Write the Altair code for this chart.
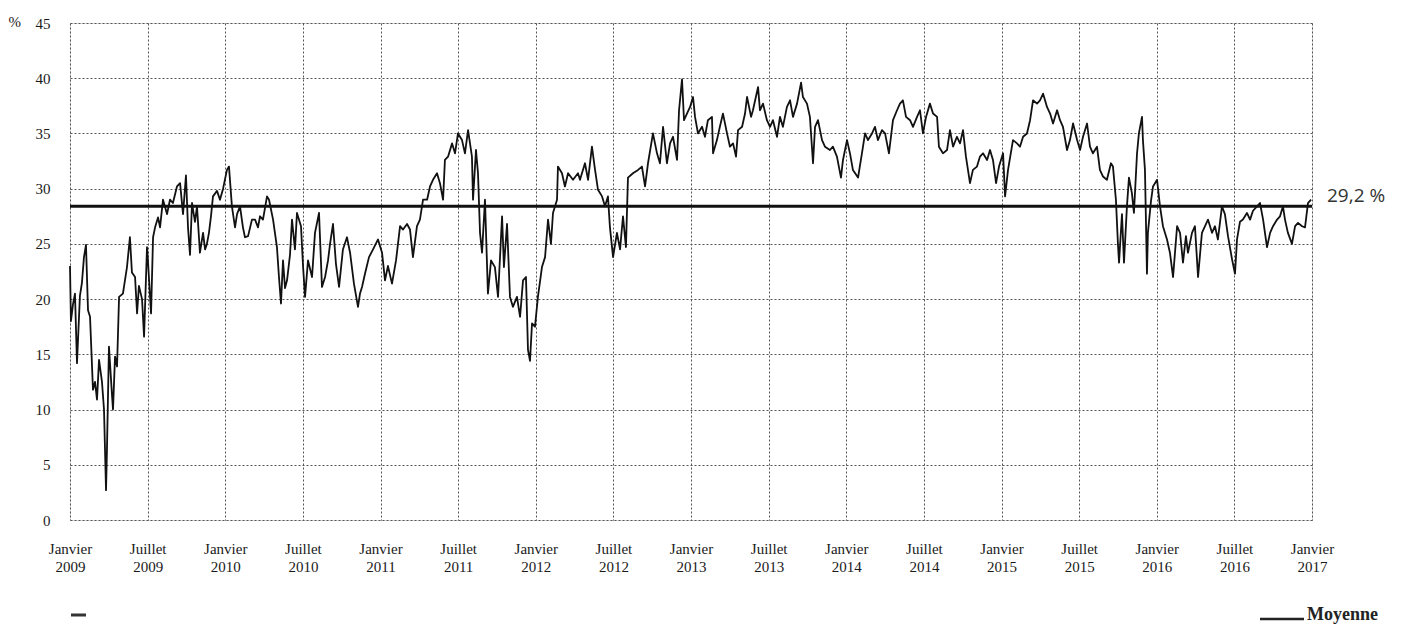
import altair as alt
import pandas as pd

# Années écoulées depuis janvier 2009 et valeurs en %
annees_depuis_2009 = [
    0.000, 0.006, 0.019, 0.032, 0.045, 0.064, 0.077, 0.090, 0.103, 0.116,
    0.129, 0.148, 0.161, 0.174, 0.187, 0.206, 0.219, 0.232, 0.238, 0.251,
    0.271, 0.277, 0.290, 0.303, 0.316, 0.341, 0.367, 0.386, 0.399, 0.419,
    0.432, 0.444, 0.464, 0.477, 0.496, 0.502, 0.522, 0.535, 0.548, 0.567,
    0.580, 0.599, 0.625, 0.644, 0.663, 0.689, 0.709, 0.728, 0.747, 0.760,
    0.773, 0.786, 0.805, 0.818, 0.837, 0.857, 0.870, 0.882, 0.895, 0.908,
    0.921, 0.947, 0.966, 0.986, 1.011, 1.024, 1.043, 1.063, 1.076, 1.095,
    1.114, 1.127, 1.147, 1.172, 1.192, 1.211, 1.224, 1.243, 1.269, 1.282,
    1.308, 1.320, 1.333, 1.346, 1.359, 1.372, 1.385, 1.398, 1.417, 1.430,
    1.449, 1.462, 1.488, 1.501, 1.514, 1.533, 1.559, 1.578, 1.604, 1.623,
    1.643, 1.662, 1.675, 1.694, 1.713, 1.733, 1.758, 1.784, 1.804, 1.829,
    1.855, 1.868, 1.881, 1.900, 1.926, 1.952, 1.984, 2.010, 2.029, 2.048,
    2.074, 2.100, 2.126, 2.145, 2.171, 2.190, 2.209, 2.235, 2.254, 2.274,
    2.300, 2.319, 2.338, 2.364, 2.383, 2.403, 2.415, 2.435, 2.461, 2.480,
    2.499, 2.525, 2.544, 2.564, 2.589, 2.596, 2.615, 2.628, 2.641, 2.654,
    2.673, 2.692, 2.712, 2.737, 2.757, 2.783, 2.795, 2.815, 2.834, 2.853,
    2.879, 2.899, 2.918, 2.937, 2.950, 2.963, 2.976, 2.995, 3.014, 3.040,
    3.060, 3.079, 3.098, 3.111, 3.137, 3.143, 3.169, 3.188, 3.208, 3.240,
    3.272, 3.285, 3.317, 3.337, 3.362, 3.382, 3.401, 3.427, 3.446, 3.465,
    3.478, 3.498, 3.523, 3.543, 3.562, 3.581, 3.594, 3.626, 3.659, 3.684,
    3.704, 3.723, 3.755, 3.781, 3.800, 3.820, 3.845, 3.865, 3.884, 3.910,
    3.923, 3.942, 3.955, 3.974, 3.994, 4.013, 4.026, 4.045, 4.071, 4.090,
    4.109, 4.135, 4.142, 4.167, 4.186, 4.206, 4.232, 4.251, 4.271, 4.290,
    4.303, 4.329, 4.348, 4.361, 4.387, 4.399, 4.432, 4.444, 4.464, 4.489,
    4.509, 4.528, 4.554, 4.573, 4.592, 4.618, 4.638, 4.657, 4.683, 4.709,
    4.721, 4.747, 4.766, 4.786, 4.799, 4.818, 4.844, 4.863, 4.895, 4.914,
    4.940, 4.966, 4.979, 5.005, 5.024, 5.043, 5.076, 5.101, 5.121, 5.140,
    5.166, 5.185, 5.204, 5.230, 5.250, 5.275, 5.301, 5.327, 5.346, 5.365,
    5.385, 5.411, 5.430, 5.456, 5.475, 5.494, 5.514, 5.539, 5.559, 5.585,
    5.597, 5.623, 5.649, 5.668, 5.688, 5.713, 5.733, 5.752, 5.771, 5.797,
    5.816, 5.842, 5.861, 5.881, 5.907, 5.926, 5.945, 5.965, 5.984, 6.010,
    6.023, 6.042, 6.074, 6.100, 6.119, 6.139, 6.164, 6.184, 6.203, 6.229,
    6.248, 6.268, 6.293, 6.313, 6.332, 6.358, 6.377, 6.396, 6.422, 6.441,
    6.461, 6.487, 6.506, 6.525, 6.551, 6.570, 6.589, 6.615, 6.634, 6.654,
    6.679, 6.705, 6.718, 6.737, 6.750, 6.757, 6.776, 6.789, 6.808, 6.821,
    6.840, 6.853, 6.873, 6.885, 6.905, 6.911, 6.924, 6.937, 6.943, 6.963,
    6.976, 7.002, 7.021, 7.040, 7.066, 7.085, 7.105, 7.131, 7.150, 7.169,
    7.188, 7.201, 7.227, 7.246, 7.266, 7.291, 7.311, 7.330, 7.356, 7.375,
    7.394, 7.420, 7.439, 7.459, 7.485, 7.504, 7.517, 7.536, 7.555, 7.581,
    7.601, 7.620, 7.646, 7.665, 7.685, 7.710, 7.730, 7.749, 7.775, 7.794,
    7.813, 7.826, 7.845, 7.871, 7.891, 7.910, 7.936, 7.955, 7.974, 7.994,
]

valeurs = [
    23.0, 18.0, 19.5, 20.5, 14.2, 20.3, 21.5, 23.8, 24.9, 19.0,
    18.4, 11.8, 12.5, 10.9, 14.5, 12.5, 10.0, 2.7, 6.3, 15.7,
    11.2, 10.0, 14.8, 13.9, 20.2, 20.5, 22.9, 25.6, 22.4, 22.0,
    18.7, 21.2, 20.0, 16.6, 24.7, 23.5, 18.7, 25.6, 26.5, 27.4,
    26.5, 29.0, 27.7, 29.0, 28.7, 30.2, 30.5, 27.7, 31.2, 26.5,
    24.0, 28.7, 27.0, 28.4, 24.2, 26.0, 24.5, 25.0, 26.0, 27.5,
    29.3, 29.8, 29.0, 30.0, 31.7, 32.0, 28.4, 26.5, 27.7, 28.4,
    26.5, 25.6, 25.7, 27.2, 27.2, 26.5, 27.5, 27.2, 29.3, 29.0,
    27.2, 26.0, 24.7, 22.0, 19.6, 23.5, 21.0, 21.7, 24.0, 27.2,
    24.5, 27.8, 26.6, 23.0, 20.2, 23.5, 22.0, 26.0, 27.8, 21.1,
    22.0, 23.5, 25.0, 26.8, 23.2, 21.1, 24.5, 25.6, 24.2, 21.4,
    19.3, 20.5, 21.1, 22.3, 23.8, 24.5, 25.4, 24.2, 21.7, 23.0,
    21.4, 23.5, 26.6, 26.3, 26.8, 26.3, 23.8, 26.6, 27.2, 29.0,
    29.0, 30.2, 30.8, 31.4, 30.5, 29.0, 32.6, 32.9, 34.1, 33.2,
    35.0, 34.4, 33.2, 35.3, 32.9, 29.0, 33.5, 31.4, 26.0, 24.2,
    29.0, 20.5, 23.5, 22.9, 20.2, 27.5, 22.9, 26.8, 20.2, 19.3,
    20.2, 18.4, 21.7, 22.0, 15.4, 14.4, 17.8, 17.5, 20.2, 22.9,
    23.8, 27.2, 25.0, 27.8, 29.0, 32.0, 31.4, 30.2, 31.4, 30.8,
    31.4, 30.8, 32.3, 30.8, 33.8, 31.7, 29.9, 29.3, 28.4, 29.3,
    26.5, 23.8, 26.0, 24.5, 27.5, 24.7, 31.0, 31.4, 31.7, 32.0,
    30.2, 32.3, 35.0, 33.2, 32.3, 35.6, 32.3, 34.1, 34.7, 32.6,
    37.1, 39.9, 36.2, 36.8, 37.4, 38.3, 36.5, 35.0, 35.6, 34.7,
    36.2, 36.5, 33.2, 34.4, 35.6, 36.8, 35.0, 33.8, 34.1, 32.9,
    35.3, 35.6, 36.8, 38.3, 36.5, 37.1, 39.2, 37.1, 37.7, 36.2,
    35.6, 36.2, 34.7, 36.5, 35.6, 37.4, 38.0, 36.5, 37.7, 39.6,
    38.3, 37.7, 36.5, 32.3, 35.6, 36.2, 34.4, 33.8, 33.5, 33.8,
    32.9, 31.0, 32.6, 34.4, 33.2, 31.7, 31.0, 33.2, 35.0, 34.4,
    35.0, 35.6, 34.4, 35.3, 35.0, 33.2, 36.2, 37.1, 37.7, 38.0,
    36.5, 36.2, 35.6, 36.5, 37.1, 35.0, 36.5, 37.7, 36.8, 36.5,
    33.8, 33.2, 33.5, 35.3, 33.8, 34.7, 34.1, 35.3, 32.9, 30.5,
    31.7, 32.0, 32.9, 33.2, 32.6, 33.5, 32.6, 30.5, 32.0, 33.2,
    29.3, 31.7, 34.4, 34.1, 33.8, 34.7, 35.0, 36.2, 38.0, 37.7,
    38.0, 38.6, 37.4, 36.8, 35.9, 37.1, 36.2, 35.6, 33.5, 34.4,
    35.9, 34.4, 33.5, 34.7, 35.9, 33.8, 33.2, 33.8, 31.7, 31.1,
    30.8, 32.3, 32.0, 29.0, 25.0, 23.3, 27.7, 23.3, 28.4, 31.0,
    29.6, 27.8, 33.2, 35.0, 36.5, 34.4, 31.7, 22.3, 26.0, 28.9,
    30.2, 30.8, 28.4, 26.6, 25.4, 24.2, 22.0, 26.6, 26.0, 23.3,
    25.7, 24.2, 26.0, 26.6, 22.0, 26.0, 26.6, 27.2, 26.0, 26.6,
    25.4, 28.4, 27.7, 25.7, 23.6, 22.3, 25.4, 27.0, 27.2, 27.8,
    27.2, 28.0, 28.4, 28.7, 27.2, 24.7, 26.0, 26.6, 27.2, 27.5,
    28.4, 27.2, 26.0, 25.0, 26.6, 26.9, 26.6, 26.5, 28.7, 29.0,
]

moyenne_trace = 28.4
moyenne_label = "29,2 %"
graduations_x = [i * 0.5 for i in range(17)]
graduations_y = list(range(0, 50, 5))

df = pd.DataFrame({"t": annees_depuis_2009, "v": valeurs})

W, H = 1242, 497
SERIF = "Liberation Serif"

x_enc = alt.X(
    "t:Q",
    scale=alt.Scale(domain=[0, 8], nice=False, zero=False),
    axis=alt.Axis(
        values=graduations_x,
        labelExpr="[datum.value % 1 == 0 ? 'Janvier' : 'Juillet', '' + (2009 + floor(datum.value))]",
        grid=True, gridColor="#555", gridDash=[2, 2], gridWidth=1,
        ticks=False, domain=False, title=None,
        labelFont=SERIF, labelFontSize=15, labelColor="#1a1a1a",
        labelPadding=21, labelLineHeight=18, labelBaseline="top",
        labelFlush=False, labelOverlap=False,
    ),
)
y_scale = alt.Scale(domain=[0, 45], nice=False, zero=False)
y_enc = alt.Y(
    "v:Q",
    scale=y_scale,
    axis=alt.Axis(
        values=graduations_y,
        grid=True, gridColor="#555", gridDash=[2, 2], gridWidth=1,
        ticks=False, domain=False,
        labelFont=SERIF, labelFontSize=15, labelColor="#1a1a1a",
        labelPadding=20, labelFlush=False, labelOverlap=False,
        title="%", titleAngle=0, titleFont=SERIF, titleFontSize=15,
        titleFontWeight="normal", titleColor="#1a1a1a",
        titleX=-62, titleY=-2, titleAlign="left", titleBaseline="middle",
    ),
)

ligne = alt.Chart(df).mark_line(color="#111", strokeWidth=1.8, strokeJoin="round").encode(
    x=x_enc, y=y_enc
)

moy = alt.Chart(pd.DataFrame({"m": [moyenne_trace]})).mark_rule(
    color="#111", strokeWidth=3
).encode(y=alt.Y("m:Q", scale=y_scale))

moy_txt = alt.Chart(pd.DataFrame({"m": [moyenne_trace], "lab": [moyenne_label]})).mark_text(
    align="left", baseline="middle", dx=15, dy=-10, font="Open Sans", fontSize=19, color="#333"
).encode(x=alt.value(W), y=alt.Y("m:Q", scale=y_scale), text="lab:N")

leg_rule = alt.Chart(pd.DataFrame({"k": [0]})).mark_rule(color="#222", strokeWidth=2.5).encode(
    x=alt.value(W - 52), x2=alt.value(W - 8), y=alt.value(H + 99)
)
leg_txt = alt.Chart(pd.DataFrame({"lab": ["Moyenne"]})).mark_text(
    align="left", baseline="alphabetic", font=SERIF, fontSize=18, fontWeight="bold", color="#222"
).encode(x=alt.value(W - 5), y=alt.value(H + 100), text="lab:N")

leg_left = alt.Chart(pd.DataFrame({"k": [0]})).mark_rule(color="#333", strokeWidth=3).encode(
    x=alt.value(1), x2=alt.value(16), y=alt.value(H + 95)
)

chart = alt.layer(ligne, moy, moy_txt, leg_rule, leg_txt, leg_left).properties(
    width=W, height=H,
    padding={"left": 62, "top": 15, "right": 85, "bottom": 104},
    autosize=alt.AutoSizeParams(type="none"),
).configure_view(stroke="#111", strokeWidth=1.2).configure(background="white")

chart.save("out.html", embed_options={"renderer": "svg", "actions": False})
